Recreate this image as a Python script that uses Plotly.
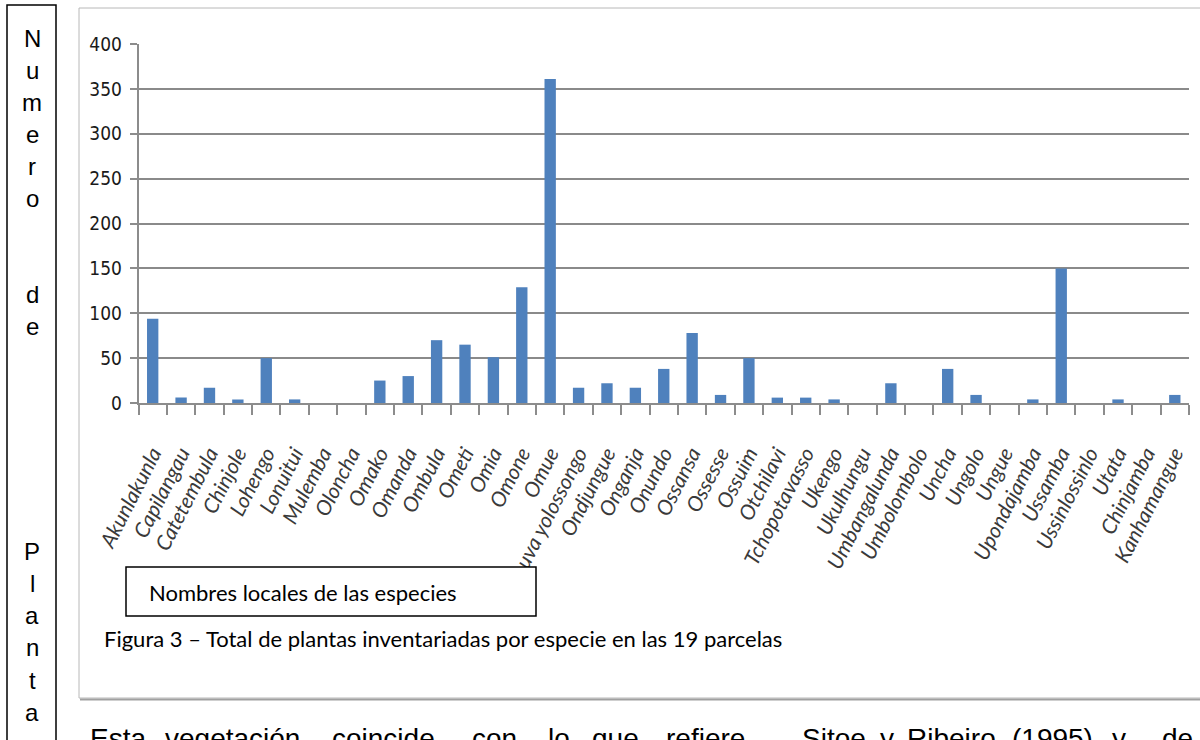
import plotly.graph_objects as go

species = ["Akunlakunla", "Capilangau", "Catetembula", "Chinjole", "Lohengo", "Lonuitui",
           "Mulemba", "Oloncha", "Omako", "Omanda", "Ombula", "Ometi", "Omia", "Omone",
           "Omue", "Omuva yolossongo", "Ondjungue", "Onganja", "Onundo", "Ossansa", "Ossesse",
           "Ossuim", "Otchilavi", "Tchopotavasso", "Ukengo", "Ukulhungu", "Umbangalunda",
           "Umbolombolo", "Uncha", "Ungolo", "Ungue", "Upondajamba", "Ussamba",
           "Ussinlossinlo", "Utata", "Chinjamba", "Kanhamangue"]
counts = [94, 6, 17, 4, 50, 4, 0, 0, 25, 30, 70, 65, 51, 129, 361, 17, 22, 17, 38, 78, 9,
          50, 6, 6, 4, 0, 22, 0, 38, 9, 0, 4, 150, 0, 4, 0, 9]
y_ticks = [0, 50, 100, 150, 200, 250, 300, 350, 400]

side_title = ["N", "u", "m", "e", "r", "o", "", "", "d", "e", "", "", "", "", "", "",
              "P", "l", "a", "n", "t", "a"]
x_title = "Nombres locales de las especies"
caption = "Figura 3 \u2013 Total de plantas inventariadas por especie en las 19 parcelas"
body_words = ["Esta", "vegetación", "coincide", "con", "lo", "que", "refiere", "Sitoe",
              "y", "Ribeiro", "(1995)", "y", "de"]
body_x = [88, 163, 330, 470, 546, 590, 664, 800, 878, 905, 1010, 1110, 1160]

W, H = 1200, 740

def px(x):
    return x / W

def py(y):
    return (H - y) / H

fig = go.Figure(go.Bar(x=species, y=counts, width=0.4,
                       marker=dict(color="#4f81bd", line=dict(width=0))))

narrow = "Liberation Sans Narrow, DejaVu Sans Condensed, Arial Narrow, sans-serif"

fig.update_layout(
    width=W, height=H, template="none",
    margin=dict(l=0, r=0, t=0, b=0),
    paper_bgcolor="white", plot_bgcolor="rgba(0,0,0,0)",
    showlegend=False,
    xaxis=dict(domain=[px(138.5), px(1189)], automargin=False, type="category",
               showgrid=False, showline=True, linecolor="#8c8c8c", linewidth=2,
               ticks="outside", tickson="boundaries", ticklen=10, tickcolor="#8c8c8c",
               tickwidth=1.5, tickangle=-63, ticklabelstandoff=28,
               tickfont=dict(family="Lato, Carlito, sans-serif", size=21, color="#3a3a3a",
                             style="italic")),
    yaxis=dict(domain=[py(403), py(44)], automargin=False, range=[0, 400],
               tickvals=y_ticks, ticktext=[str(v) for v in y_ticks],
               showgrid=True, gridcolor="#8a8a8a", gridwidth=1.8,
               showline=True, linecolor="#8c8c8c", linewidth=1.5, zeroline=False,
               ticks="outside", ticklen=7, tickcolor="#8c8c8c", tickwidth=1.5,
               ticklabelstandoff=4,
               tickfont=dict(family=narrow, size=19, color="#1a1a1a")),
)

shapes = [
    # chart frame
    dict(type="rect", xref="paper", yref="paper", x0=px(79), x1=px(1215), y0=py(698), y1=py(8),
         line=dict(color="#b8b8b8", width=1), layer="below"),
    dict(type="line", xref="paper", yref="paper", x0=px(80), x1=px(1215), y0=py(699.5), y1=py(699.5),
         line=dict(color="#a0a0a0", width=2), layer="below"),
    # left vertical title box
    dict(type="rect", xref="paper", yref="paper", x0=px(7), x1=px(56), y0=py(760), y1=py(5),
         line=dict(color="black", width=1.5), layer="above"),
    # axis title box
    dict(type="rect", xref="paper", yref="paper", x0=px(126), x1=px(536), y0=py(616), y1=py(567),
         line=dict(color="black", width=1.5), fillcolor="white", layer="above"),
]

annotations = []
for i, ch in enumerate(side_title):
    if ch:
        annotations.append(dict(text=ch, x=px(32), y=py(38 + 32.1 * i), xref="paper", yref="paper",
                                xanchor="center", yanchor="middle", showarrow=False,
                                font=dict(family="Liberation Sans, Arial, sans-serif", size=24,
                                          color="black")))
annotations.append(dict(text=x_title, x=px(147), y=py(592), xref="paper", yref="paper",
                        xanchor="left", yanchor="middle", showarrow=False,
                        font=dict(family="Lato, Carlito, sans-serif", size=22, color="black")))
annotations.append(dict(text=caption, x=px(102), y=py(638), xref="paper", yref="paper",
                        xanchor="left", yanchor="middle", showarrow=False,
                        font=dict(family="Lato, Carlito, sans-serif", size=22, color="black")))
for w, xx in zip(body_words, body_x):
    annotations.append(dict(text=w, x=px(xx), y=py(721), xref="paper", yref="paper",
                            xanchor="left", yanchor="top", showarrow=False,
                            font=dict(family="Liberation Sans, Arial, sans-serif", size=28,
                                      color="black")))

fig.update_layout(shapes=shapes, annotations=annotations)
fig.write_html("out.html")
